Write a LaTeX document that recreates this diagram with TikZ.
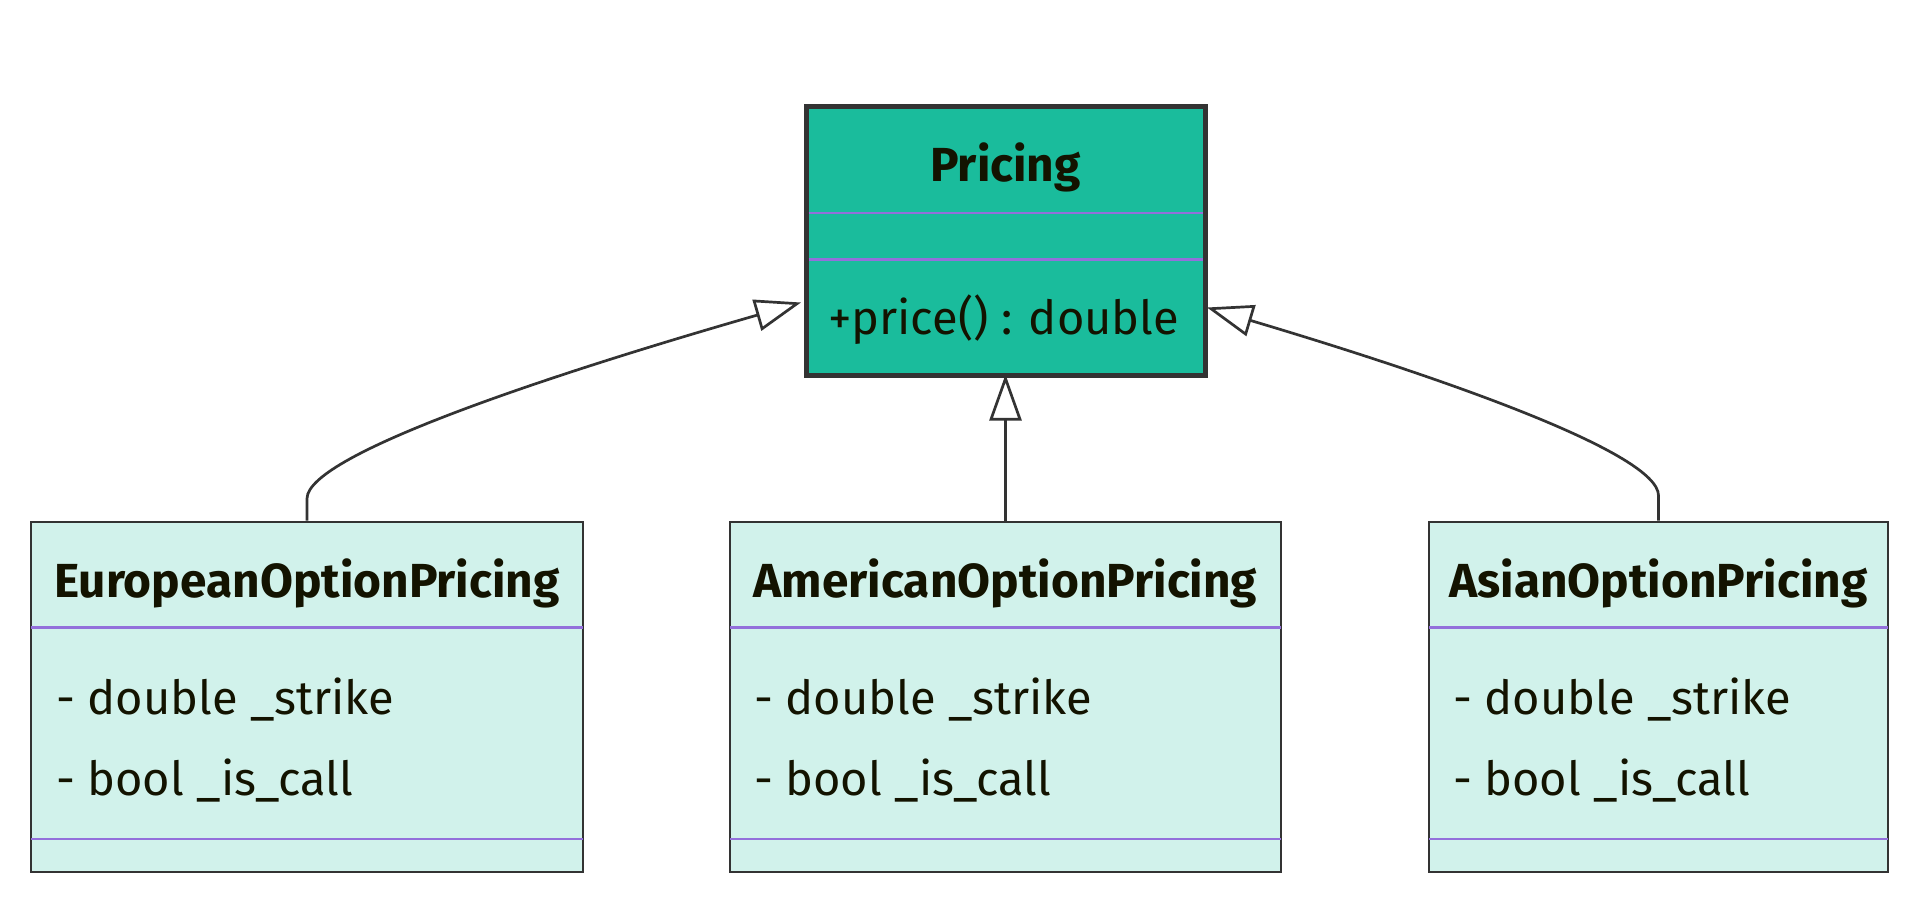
\documentclass[tikz,border=0pt]{standalone}
\usepackage{fontspec}
\setmainfont{Fira Sans}
\usetikzlibrary{arrows.meta}
\definecolor{edgec}{HTML}{333333}
\definecolor{mainfill}{HTML}{1ABC9C}
\definecolor{subfill}{HTML}{D1F2EB}
\definecolor{divc}{HTML}{9370DB}
\definecolor{txtc}{HTML}{131300}
\tikzset{
  mainbox/.style={draw=edgec, line width=5pt, fill=mainfill, inner sep=0pt, minimum width=399pt, minimum height=268pt},
  subbox/.style={draw=edgec, line width=2.8pt, fill=subfill, inner sep=0pt, minimum height=350pt},
  divline/.style={draw=divc, line width=2.6pt},
  titletext/.style={text=txtc, inner sep=0pt, anchor=base, font=\fontsize{47.8}{56}\selectfont\bfseries},
  membertext/.style={text=txtc, inner sep=0pt, anchor=base west, font=\fontsize{47}{56}\selectfont},
  inherit/.style={draw=edgec, line width=2.7pt, -{Triangle[length=46pt, width=32pt, fill=white]}}
}
\begin{document}
\begin{tikzpicture}[x=1pt, y=-1pt]
\useasboundingbox (0,0) rectangle (1920,915);
% boxes
\node[mainbox] (pricing) at (1005.5,241) {};
\node[subbox, minimum width=552pt] (euro) at (307,697) {};
\node[subbox, minimum width=551pt] (amer) at (1005.5,697) {};
\node[subbox, minimum width=459pt] (asian) at (1658.5,697) {};
% dividers
\draw[divline] (808.5,213) -- (1202.5,213);
\draw[divline] (808.5,259.5) -- (1202.5,259.5);
\foreach \b in {euro, amer, asian} {
  \draw[divline] ([xshift=1.4pt]\b.west |- 0,627.5) -- ([xshift=-1.4pt]\b.east |- 0,627.5);
  \draw[divline] ([xshift=1.4pt]\b.west |- 0,839) -- ([xshift=-1.4pt]\b.east |- 0,839);
}
% texts
\node[titletext] (tP) at (1005.5,181.7) {Pricing};
\node[membertext] (mP) at (828,334) {+price() : double};
\node[titletext] (tE) at (307,597.6) {EuropeanOptionPricing};
\node[membertext] (aE1) at (56,714) {- double \_strike};
\node[membertext] (aE2) at (56,795.5) {- bool \_is\_call};
\node[titletext] (tA) at (1005.5,597.6) {AmericanOptionPricing};
\node[membertext] (aA1) at (754,714) {- double \_strike};
\node[membertext] (aA2) at (754,795.5) {- bool \_is\_call};
\node[titletext] (tS) at (1658.5,597.6) {AsianOptionPricing};
\node[membertext] (aS1) at (1453,714) {- double \_strike};
\node[membertext] (aS2) at (1453,795.5) {- bool \_is\_call};
% connectors
\draw[inherit] (euro.north) -- ++(0,-22) .. controls +(0,-45) and (563,371) .. ([shift={(-2.5,-75)}]pricing.south west);
\draw[inherit] (amer.north) -- ([yshift=3pt]pricing.south);
\draw[inherit] (asian.north) -- ++(0,-25) .. controls +(0,-42) and (1447,379) .. ([shift={(-0.5,-70)}]pricing.south east);
\end{tikzpicture}
\end{document}
